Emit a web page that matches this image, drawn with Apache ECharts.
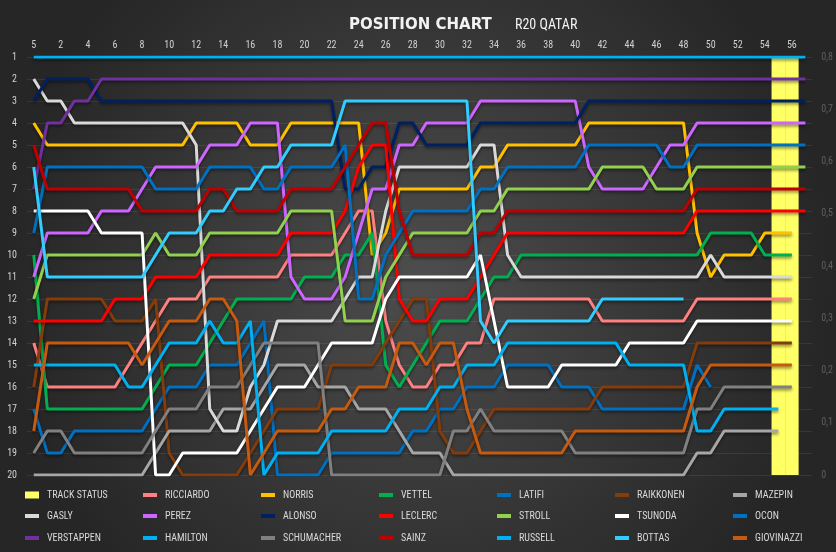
<!DOCTYPE html>
<html>
<head>
<meta charset="utf-8">
<script src="https://cdn.jsdelivr.net/npm/echarts@6/dist/echarts.min.js"></script>
<style>
html,body{margin:0;padding:0;background:#333;}
#chart{width:836px;height:552px;}
</style>
</head>
<body>
<div id="chart"></div>
<script>
// Lap categories (first category is labelled "5" in the source chart)
const laps = ['5','1','2','3','4','5','6','7','8','9','10','11','12','13','14','15','16','17','18','19','20','21','22','23','24','25','26','27','28','29','30','31','32','33','34','35','36','37','38','39','40','41','42','43','44','45','46','47','48','49','50','51','52','53','54','55','56','57'];

// Track status (secondary axis)
const trackStatus = [null,null,null,null,null,null,null,null,null,null,null,null,null,null,null,null,null,null,null,null,null,null,null,null,null,null,null,null,null,null,null,null,null,null,null,null,null,null,null,null,null,null,null,null,null,null,null,null,null,null,null,null,null,null,null,0.8,0.8,null];

// Positions per lap
const HAMILTON   = [1,1,1,1,1,1,1,1,1,1,1,1,1,1,1,1,1,1,1,1,1,1,1,1,1,1,1,1,1,1,1,1,1,1,1,1,1,1,1,1,1,1,1,1,1,1,1,1,1,1,1,1,1,1,1,1,1,1];
const VERSTAPPEN = [7,4,4,3,3,2,2,2,2,2,2,2,2,2,2,2,2,2,2,2,2,2,2,2,2,2,2,2,2,2,2,2,2,2,2,2,2,2,2,2,2,2,2,2,2,2,2,2,2,2,2,2,2,2,2,2,2,2];
const ALONSO     = [3,2,2,2,2,3,3,3,3,3,3,3,3,3,3,3,3,3,3,3,3,3,3,7,7,6,6,4,4,5,5,5,5,4,4,4,4,4,4,4,4,3,3,3,3,3,3,3,3,3,3,3,3,3,3,3,3,3];
const PEREZ      = [11,9,9,9,9,8,8,8,7,6,6,6,6,5,5,5,4,4,4,11,12,12,12,11,9,7,7,5,5,4,4,4,4,3,3,3,3,3,3,3,3,6,7,7,7,7,6,5,5,4,4,4,4,4,4,4,4,4];
const OCON       = [9,6,6,6,6,6,6,6,6,7,7,7,7,6,6,6,6,7,7,6,6,6,6,5,12,12,10,9,8,8,8,8,8,7,7,6,6,6,6,6,6,5,5,5,5,5,5,6,6,5,5,5,5,5,5,5,5,5];
const STROLL     = [12,10,10,10,10,10,10,10,10,9,10,10,10,9,9,9,9,9,9,8,8,8,8,13,13,13,11,10,9,9,9,9,9,8,8,7,7,7,7,7,7,7,6,6,6,6,7,7,7,6,6,6,6,6,6,6,6,6];
const SAINZ      = [5,7,7,7,7,7,7,7,8,8,8,8,8,7,7,8,8,8,8,7,7,7,7,6,5,4,4,8,10,10,10,10,10,9,9,8,8,8,8,8,8,8,8,8,8,8,8,8,8,7,7,7,7,7,7,7,7,7];
const LECLERC    = [13,13,13,13,13,13,12,12,12,11,11,11,11,10,10,10,10,10,10,9,9,9,9,8,6,5,5,12,13,13,12,12,12,11,10,9,9,9,9,9,9,9,9,9,9,9,9,9,9,8,8,8,8,8,8,8,8,8];
const NORRIS     = [4,5,5,5,5,5,5,5,5,5,5,5,4,4,4,4,5,5,5,4,4,4,4,4,4,10,9,7,7,7,7,7,7,6,6,5,5,5,5,5,5,4,4,4,4,4,4,4,4,9,11,10,10,10,9,9,9];
const VETTEL     = [10,17,17,17,17,17,17,17,17,16,15,15,15,14,13,12,12,12,12,12,11,11,11,10,10,9,15,16,15,14,13,13,13,12,11,11,10,10,10,10,10,10,10,10,10,10,10,10,10,10,9,9,9,9,10,10,10];
const GASLY      = [2,3,3,4,4,4,4,4,4,4,4,4,5,17,18,18,16,15,13,13,13,13,13,12,11,11,8,6,6,6,6,6,6,5,5,10,11,11,11,11,11,11,11,11,11,11,11,11,11,11,10,11,11,11,11,11,11];
const RICCIARDO  = [14,16,16,16,16,16,16,15,14,13,12,12,12,11,11,11,11,11,11,10,10,10,10,9,8,8,13,15,16,16,15,15,14,14,12,12,12,12,12,12,12,12,13,13,13,13,13,13,13,12,12,12,12,12,12,12,12];
const TSUNODA    = [8,8,8,8,8,9,9,9,9,20,20,19,19,19,19,19,18,17,16,16,16,15,14,14,14,14,12,11,11,11,11,11,11,10,13,16,16,16,16,15,15,15,15,15,14,14,14,14,14,13,13,13,13,13,13,13,13];
const RAIKKONEN  = [16,12,12,12,12,12,13,13,13,12,19,20,20,20,20,20,19,18,17,17,17,17,15,15,15,15,14,13,12,12,18,19,19,18,17,17,17,17,17,17,17,17,16,16,16,16,16,16,16,14,14,14,14,14,14,14,14];
const GIOVINAZZI = [18,14,14,14,14,14,14,14,15,14,13,13,13,12,12,13,20,19,18,18,18,18,17,17,16,16,16,14,14,15,14,14,17,19,19,19,19,19,19,19,18,18,18,18,18,18,18,18,18,16,15,15,15,15,15,15,15];
const SCHUMACHER = [19,18,18,19,19,19,19,19,19,18,17,17,17,16,16,16,15,14,14,14,14,14,20,20,20,20,20,20,20,20,20,18,18,17,18,18,18,18,18,18,19,19,19,19,19,19,19,19,19,17,17,16,16,16,16,16,16];
const RUSSELL    = [15,15,15,15,15,15,15,16,16,15,14,14,14,13,14,14,13,20,19,19,19,19,18,18,18,18,18,17,17,17,16,16,15,15,15,14,14,14,14,14,14,14,14,14,15,15,15,15,15,18,18,17,17,17,17,17];
const MAZEPIN    = [20,20,20,20,20,20,20,20,20,19,18,18,18,18,17,17,17,16,15,15,15,16,16,16,17,17,17,18,19,19,19,20,20,20,20,20,20,20,20,20,20,20,20,20,20,20,20,20,20,19,19,18,18,18,18,18];
const BOTTAS     = [6,11,11,11,11,11,11,11,11,10,9,9,9,8,8,7,7,6,6,5,5,5,5,3,3,3,3,3,3,3,3,3,3,13,14,13,13,13,13,13,13,13,12,12,12,12,12,12,12];
const LATIFI     = [17,19,19,18,18,18,18,18,18,17,16,16,16,15,15,15,14,13,20,20,20,20,19,19,19,19,19,19,18,18,17,17,16,16,16,15,15,15,15,16,16,16,17,17,17,17,17,17,17,15,16];

// Legend layout (row-major, as in the source)
const legendRows = [
  ['TRACK STATUS','RICCIARDO','NORRIS','VETTEL','LATIFI','RAIKKONEN','MAZEPIN'],
  ['GASLY','PEREZ','ALONSO','LECLERC','STROLL','TSUNODA','OCON'],
  ['VERSTAPPEN','HAMILTON','SCHUMACHER','SAINZ','RUSSELL','BOTTAS','GIOVINAZZI']
];

const drivers = [
  ['RICCIARDO', RICCIARDO, '#FF8080'],
  ['NORRIS', NORRIS, '#FFC000'],
  ['VETTEL', VETTEL, '#00B050'],
  ['LATIFI', LATIFI, '#0070C0'],
  ['RAIKKONEN', RAIKKONEN, '#843C0C'],
  ['MAZEPIN', MAZEPIN, '#A6A6A6'],
  ['GASLY', GASLY, '#D9D9D9'],
  ['PEREZ', PEREZ, '#CC66FF'],
  ['ALONSO', ALONSO, '#002060'],
  ['LECLERC', LECLERC, '#FF0000'],
  ['STROLL', STROLL, '#92D050'],
  ['TSUNODA', TSUNODA, '#FFFFFF'],
  ['OCON', OCON, '#0070C0'],
  ['VERSTAPPEN', VERSTAPPEN, '#7030A0'],
  ['SCHUMACHER', SCHUMACHER, '#808080'],
  ['SAINZ', SAINZ, '#C00000'],
  ['RUSSELL', RUSSELL, '#00B0F0'],
  ['BOTTAS', BOTTAS, '#33CCFF'],
  ['GIOVINAZZI', GIOVINAZZI, '#C55A11'],
  ['HAMILTON', HAMILTON, '#00B0F0']
];

const FONT = "'Liberation Sans Narrow','Roboto Condensed','Open Sans',sans-serif";

const series = [{
  name: 'TRACK STATUS',
  type: 'bar',
  yAxisIndex: 1,
  data: trackStatus,
  barCategoryGap: '0%',
  itemStyle: { color: '#FFFF66' },
  z: 1,
  silent: true
}];
drivers.forEach(([name, data, color]) => {
  series.push({
    name, type: 'line', data, symbol: 'none', z: 3,
    lineStyle: { width: 3, color, shadowColor: 'rgba(0,0,0,0.45)', shadowBlur: 3, shadowOffsetY: 2 },
    itemStyle: { color },
    emphasis: { disabled: true }
  });
});

const legends = [];
legendRows.forEach((row, r) => {
  row.forEach((name, c) => {
    legends.push({
      data: [name],
      left: 25 + c * 118,
      top: [490, 511, 533][r],
      padding: 0,
      icon: 'rect',
      itemWidth: 14,
      itemHeight: name === 'TRACK STATUS' ? 7 : 4,
      selectedMode: false,
      textStyle: { color: '#D9D9D9', fontSize: 10, fontFamily: FONT, padding: [0, 0, 0, 3] }
    });
  });
});

const chart = echarts.init(document.getElementById('chart'));
chart.setOption({
  backgroundColor: {
    type: 'radial', x: 0.5, y: 0.5, r: 0.75,
    colorStops: [{ offset: 0, color: '#4d4d4d' }, { offset: 1, color: '#262626' }]
  },
  animation: false,
  title: [
    { text: 'POSITION CHART', left: 344, top: 13,
      textStyle: { color: '#F2F2F2', fontSize: 15, fontWeight: 'bold', fontFamily: "'DejaVu Sans',sans-serif" } },
    { text: 'R20 QATAR', left: 510, top: 13,
      textStyle: { color: '#F2F2F2', fontSize: 14, fontWeight: 'normal', fontFamily: FONT } }
  ],
  legend: legends,
  grid: { left: 27, right: 23, top: 57, bottom: 77 },
  xAxis: {
    type: 'category', data: laps, position: 'top', boundaryGap: true,
    axisLine: { show: false }, axisTick: { show: false },
    axisLabel: { interval: 1, color: '#D0D0D0', fontSize: 10, margin: 7, fontFamily: FONT },
    splitLine: { show: false }
  },
  yAxis: [{
    type: 'value', inverse: true, min: 1, max: 20, interval: 1,
    axisLine: { show: false }, axisTick: { show: false },
    axisLabel: { color: '#D0D0D0', fontSize: 10, margin: 10, fontFamily: FONT },
    splitLine: { lineStyle: { color: 'rgba(255,255,255,0.08)', width: 1 } }
  }, {
    type: 'value', min: 0, max: 0.8, interval: 0.1, position: 'right',
    axisLine: { show: false }, axisTick: { show: false },
    axisLabel: { color: '#5E5E5E', fontSize: 10, margin: 9, fontFamily: FONT,
      formatter: v => (Math.round(v * 10) === 0 ? '0' : (Math.round(v * 10) / 10).toFixed(1).replace('.', ',')) },
    splitLine: { show: false }
  }],
  series
});
</script>
</body>
</html>
